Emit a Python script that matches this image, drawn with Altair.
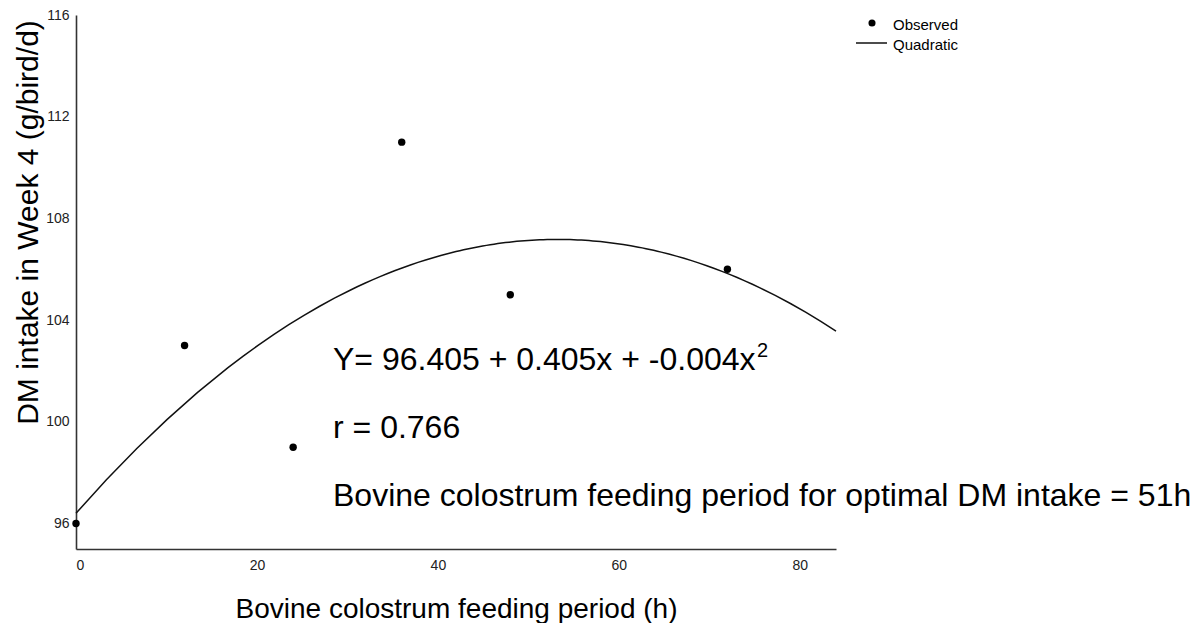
import altair as alt
import pandas as pd

# ---- data ----
period_h = [0, 12, 24, 36, 48, 72]
dm_intake = [96, 103, 99, 111, 105, 106]
x_ticks = [0, 20, 40, 60, 80]
y_ticks = [96, 100, 104, 108, 112, 116]
x_domain = [0, 84]
y_domain = [95, 116]
legend_labels = ["Observed", "Quadratic"]
eq_text = ["Y= 96.405 + 0.405x + -0.004x"]
eq_sup = ["2"]
r_text = ["r = 0.766"]
opt_text = ["Bovine colostrum feeding period for optimal DM intake = 51h"]
x_title = "Bovine colostrum feeding period (h)"
y_title = "DM intake in Week 4 (g/bird/d)"

FONT = "Liberation Sans"
INK = "#111111"

df = pd.DataFrame({"x": period_h, "y": dm_intake})

x_enc = alt.X(
    "x:Q",
    scale=alt.Scale(domain=x_domain, nice=False, zero=False),
    axis=alt.Axis(
        values=x_ticks, title=x_title, grid=False, ticks=False,
        labelPadding=9, labelFontSize=14, labelColor="#222",
        titleFontSize=28, titleFontWeight="normal", titleColor="#000",
        titleBaseline="alphabetic", titleY=68,
        domainColor="#333", domainWidth=1.6,
    ),
)
y_enc = alt.Y(
    "y:Q",
    scale=alt.Scale(domain=y_domain, nice=False, zero=False),
    axis=alt.Axis(
        values=y_ticks, title=y_title, grid=False, ticks=False,
        labelPadding=7, labelFontSize=14, labelColor="#222",
        titleFontSize=30, titleFontWeight="normal", titleColor="#000",
        titleAngle=-90, titleAlign="center", titleBaseline="middle",
        titleX=-48, titleY=207,
        domainColor="#333", domainWidth=1.6,
    ),
)

base = alt.Chart(df)

curve = base.transform_regression(
    "x", "y", method="poly", order=2, extent=x_domain
).mark_line(color=INK, strokeWidth=1.5).encode(x=x_enc, y=y_enc)

points = base.mark_circle(size=55, color="#000", opacity=1).encode(x=x_enc, y=y_enc)


def text_layer(lines, x, y, size, align="left", baseline="alphabetic"):
    return alt.Chart(pd.DataFrame({"t": lines})).mark_text(
        align=align, baseline=baseline, fontSize=size, font=FONT, color="#000"
    ).encode(x=alt.value(x), y=alt.value(y), text="t:N")


eq = text_layer(eq_text, 257, 355, 32)
sup = text_layer(eq_sup, 681, 342, 20)
rr = text_layer(r_text, 257, 423, 32)
opt = text_layer(opt_text, 257, 491, 32)

leg_dot = alt.Chart(pd.DataFrame({"k": [legend_labels[0]]})).mark_circle(
    size=50, color="#000", opacity=1
).encode(x=alt.value(796), y=alt.value(8))
leg_line = alt.Chart(pd.DataFrame({"k": [legend_labels[1]]})).mark_rule(
    color=INK, strokeWidth=1.5
).encode(x=alt.value(780), x2=alt.value(811), y=alt.value(28))
leg_t1 = text_layer([legend_labels[0]], 817, 10, 15, baseline="middle")
leg_t2 = text_layer([legend_labels[1]], 817, 30, 15, baseline="middle")

chart = alt.layer(
    curve, points, eq, sup, rr, opt, leg_dot, leg_line, leg_t1, leg_t2
).properties(
    width=760,
    height=534,
    padding={"left": 68, "top": 7, "right": 360, "bottom": 74},
    autosize=alt.AutoSizeParams(type="none"),
).configure(
    background="white",
    view=alt.ViewConfig(stroke=None),
    axis=alt.AxisConfig(labelFont=FONT, titleFont=FONT),
)

chart.save("out.html", embed_options={"renderer": "svg", "actions": False})
